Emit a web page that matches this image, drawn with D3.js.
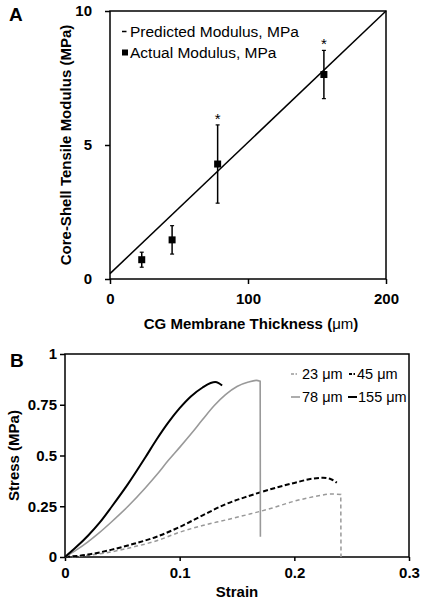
<!DOCTYPE html>
<html><head><meta charset="utf-8">
<script src="https://cdn.jsdelivr.net/npm/d3@7"></script>
<style>body{margin:0;background:#fff}svg{display:block}text{font-family:"Liberation Sans",Arial,sans-serif}</style>
</head><body>
<svg id="c" width="425" height="600"></svg>
<script>
// Panel A data
const thickness = [23, 45, 78, 155];
const actualModulus = [0.72, 1.46, 4.29, 7.63];
const modulusErr = [0.28, 0.53, 1.46, 0.9];
const significant = [false, false, true, true];
const predictedX = [0, 200];
const predictedY = [0.2, 10];
const aXTicks = [0, 100, 200];
const aYTicks = [0, 5, 10];

// Panel B data (last point of 78 and 23 µm = failure drop)
const strain155 = [0, 0.01, 0.02, 0.03, 0.041, 0.055, 0.07, 0.08, 0.09, 0.1, 0.11, 0.12, 0.127, 0.131, 0.134, 0.137];
const stress155 = [0, 0.05, 0.105, 0.168, 0.25, 0.36, 0.49, 0.58, 0.662, 0.733, 0.792, 0.835, 0.857, 0.862, 0.857, 0.845];
const strain78 = [0, 0.01, 0.02, 0.03, 0.04, 0.055, 0.07, 0.08, 0.09, 0.1, 0.11, 0.12, 0.13, 0.14, 0.15, 0.16, 0.167, 0.1702, 0.1704];
const stress78 = [0, 0.035, 0.075, 0.12, 0.17, 0.25, 0.34, 0.405, 0.475, 0.54, 0.607, 0.677, 0.745, 0.8, 0.84, 0.862, 0.87, 0.866, 0.10];
const strain45 = [0, 0.02, 0.04, 0.06, 0.08, 0.1, 0.12, 0.14, 0.16, 0.18, 0.2, 0.215, 0.225, 0.232, 0.237];
const stress45 = [0, 0.012, 0.035, 0.065, 0.1, 0.148, 0.205, 0.26, 0.3, 0.335, 0.365, 0.385, 0.39, 0.383, 0.366];
const strain23 = [0, 0.02, 0.04, 0.06, 0.08, 0.1, 0.12, 0.14, 0.16, 0.18, 0.2, 0.22, 0.232, 0.2405, 0.2407];
const stress23 = [0, 0.008, 0.025, 0.05, 0.08, 0.122, 0.155, 0.182, 0.21, 0.24, 0.275, 0.3, 0.31, 0.308, 0.0];
const bXTicks = [0, 0.1, 0.2, 0.3];
const bYTicks = [0, 0.25, 0.5, 0.75, 1];
const bYTickLabels = ["0", "0.25", "0.5", "0.75", "1"];
const bXTickLabels = ["0", "0.1", "0.2", "0.3"];

const svg = d3.select("#c");
const bold = "bold";

// ---------- Panel A ----------
const xA = d3.scaleLinear().domain([0, 200]).range([110, 386]);
const yA = d3.scaleLinear().domain([0, 10]).range([279, 11]);
const gA = svg.append("g");
gA.append("rect").attr("x", xA(0)).attr("y", yA(10)).attr("width", xA(200) - xA(0)).attr("height", yA(0) - yA(10))
  .attr("fill", "none").attr("stroke", "#000").attr("stroke-width", 1.5);
const axA = gA.append("g").attr("transform", `translate(0,${yA(0)})`)
  .call(d3.axisBottom(xA).tickValues(aXTicks).tickSize(5).tickPadding(9).tickFormat(d3.format("d")));
const ayA = gA.append("g").attr("transform", `translate(${xA(0)},0)`)
  .call(d3.axisLeft(yA).tickValues(aYTicks).tickSize(5).tickPadding(13).tickFormat(d3.format("d")));
[axA, ayA].forEach(a => {
  a.select(".domain").remove();
  a.selectAll("line").attr("stroke", "#000").attr("stroke-width", 1.5);
  a.selectAll("text").attr("font-size", 15).attr("font-weight", bold).attr("fill", "#000")
   .style("font-family", '"Liberation Sans",Arial,sans-serif');
});
gA.append("path").datum(predictedX.map((x, i) => [x, predictedY[i]]))
  .attr("d", d3.line().x(d => xA(d[0])).y(d => yA(d[1])))
  .attr("fill", "none").attr("stroke", "#000").attr("stroke-width", 1.5);
thickness.forEach((t, i) => {
  const x = xA(t), y1 = yA(actualModulus[i] + modulusErr[i]), y2 = yA(actualModulus[i] - modulusErr[i]);
  gA.append("line").attr("x1", x).attr("x2", x).attr("y1", y1).attr("y2", y2).attr("stroke", "#000").attr("stroke-width", 1.5);
  [y1, y2].forEach(yy => gA.append("line").attr("x1", x - 2).attr("x2", x + 2).attr("y1", yy).attr("y2", yy).attr("stroke", "#000").attr("stroke-width", 1.2));
  gA.append("rect").attr("x", x - 3.5).attr("y", yA(actualModulus[i]) - 3.5).attr("width", 7).attr("height", 7).attr("fill", "#000");
  if (significant[i]) gA.append("text").attr("x", x).attr("y", y1 - 1).attr("text-anchor", "middle")
    .attr("font-size", 15).text("*");
});
gA.append("line").attr("x1", 122).attr("x2", 126.5).attr("y1", 31.5).attr("y2", 31.5).attr("stroke", "#000").attr("stroke-width", 1.5);
gA.append("text").attr("x", 130).attr("y", 37).attr("font-size", 15.5).text("Predicted Modulus, MPa");
gA.append("rect").attr("x", 122).attr("y", 49.5).attr("width", 6).attr("height", 6).attr("fill", "#000");
gA.append("text").attr("x", 130).attr("y", 58).attr("font-size", 15.5).text("Actual Modulus, MPa");
const xtA = gA.append("text").attr("x", 251).attr("y", 329).attr("text-anchor", "middle").attr("font-size", 15).attr("font-weight", bold);
xtA.append("tspan").text("CG Membrane Thickness (");
xtA.append("tspan").attr("font-weight", "normal").text("μm");
xtA.append("tspan").text(")");
gA.append("text").attr("transform", `translate(71,${(yA(0) + yA(10)) / 2}) rotate(-90)`).attr("text-anchor", "middle")
  .attr("font-size", 15).attr("font-weight", bold).text("Core-Shell Tensile Modulus (MPa)");
gA.append("text").attr("x", 9).attr("y", 21).attr("font-size", 19).attr("font-weight", bold).text("A");

// ---------- Panel B ----------
const xB = d3.scaleLinear().domain([0, 0.3]).range([65, 409]);
const yB = d3.scaleLinear().domain([0, 1]).range([557, 354]);
const gB = svg.append("g");
gB.append("rect").attr("x", xB(0)).attr("y", yB(1)).attr("width", xB(0.3) - xB(0)).attr("height", yB(0) - yB(1))
  .attr("fill", "none").attr("stroke", "#000").attr("stroke-width", 1.5);
const axB = gB.append("g").attr("transform", `translate(0,${yB(0)})`)
  .call(d3.axisBottom(xB).tickValues(bXTicks).tickSize(4).tickPadding(6).tickFormat((d, i) => bXTickLabels[i]));
const ayB = gB.append("g").attr("transform", `translate(${xB(0)},0)`)
  .call(d3.axisLeft(yB).tickValues(bYTicks).tickSize(5).tickPadding(3).tickFormat((d, i) => bYTickLabels[i]));
[axB, ayB].forEach(a => {
  a.select(".domain").remove();
  a.selectAll("line").attr("stroke", "#000").attr("stroke-width", 1.5);
  a.selectAll("text").attr("font-size", 15).attr("font-weight", bold).attr("fill", "#000")
   .style("font-family", '"Liberation Sans",Arial,sans-serif');
});
const smooth = d3.line().x(d => xB(d[0])).y(d => yB(d[1])).curve(d3.curveMonotoneX);
const series = [
  {sx: strain23, sy: stress23, color: "#999", w: 1.5, dash: "4,3", drop: true},
  {sx: strain45, sy: stress45, color: "#000", w: 2, dash: "5,2.5", drop: false},
  {sx: strain78, sy: stress78, color: "#999", w: 1.6, dash: null, drop: true},
  {sx: strain155, sy: stress155, color: "#000", w: 2, dash: null, drop: false}
];
series.forEach(s => {
  const pts = s.sx.map((x, i) => [x, s.sy[i]]);
  let d;
  if (s.drop) {
    const last = pts[pts.length - 1];
    d = smooth(pts.slice(0, -1)) + "L" + xB(last[0]) + "," + yB(last[1]);
  } else d = smooth(pts);
  gB.append("path").attr("d", d)
    .attr("fill", "none").attr("stroke", s.color).attr("stroke-width", s.w)
    .attr("stroke-dasharray", s.dash);
});
const legB = [
  {x1: 291, x2: 297, y: 374, s: series[0], label: "23 μm", tx: 302},
  {x1: 349, x2: 355, y: 374, s: series[1], label: "45 μm", tx: 357},
  {x1: 291, x2: 300, y: 397, s: series[2], label: "78 μm", tx: 302},
  {x1: 348, x2: 357, y: 397, s: series[3], label: "155 μm", tx: 358}
];
legB.forEach(l => {
  gB.append("line").attr("x1", l.x1).attr("x2", l.x2).attr("y1", l.y).attr("y2", l.y)
    .attr("stroke", l.s.color).attr("stroke-width", l.s.w).attr("stroke-dasharray", l.s.dash ? "3,1.5" : null);
  gB.append("text").attr("x", l.tx).attr("y", l.y + 5).attr("font-size", 14.5).text(l.label);
});
gB.append("text").attr("x", 237).attr("y", 597).attr("text-anchor", "middle").attr("font-size", 15).attr("font-weight", bold).text("Strain");
gB.append("text").attr("transform", `translate(19,${(yB(0) + yB(1)) / 2}) rotate(-90)`).attr("text-anchor", "middle")
  .attr("font-size", 15).attr("font-weight", bold).text("Stress (MPa)");
gB.append("text").attr("x", 10).attr("y", 367).attr("font-size", 19).attr("font-weight", bold).text("B");
</script>
</body></html>
